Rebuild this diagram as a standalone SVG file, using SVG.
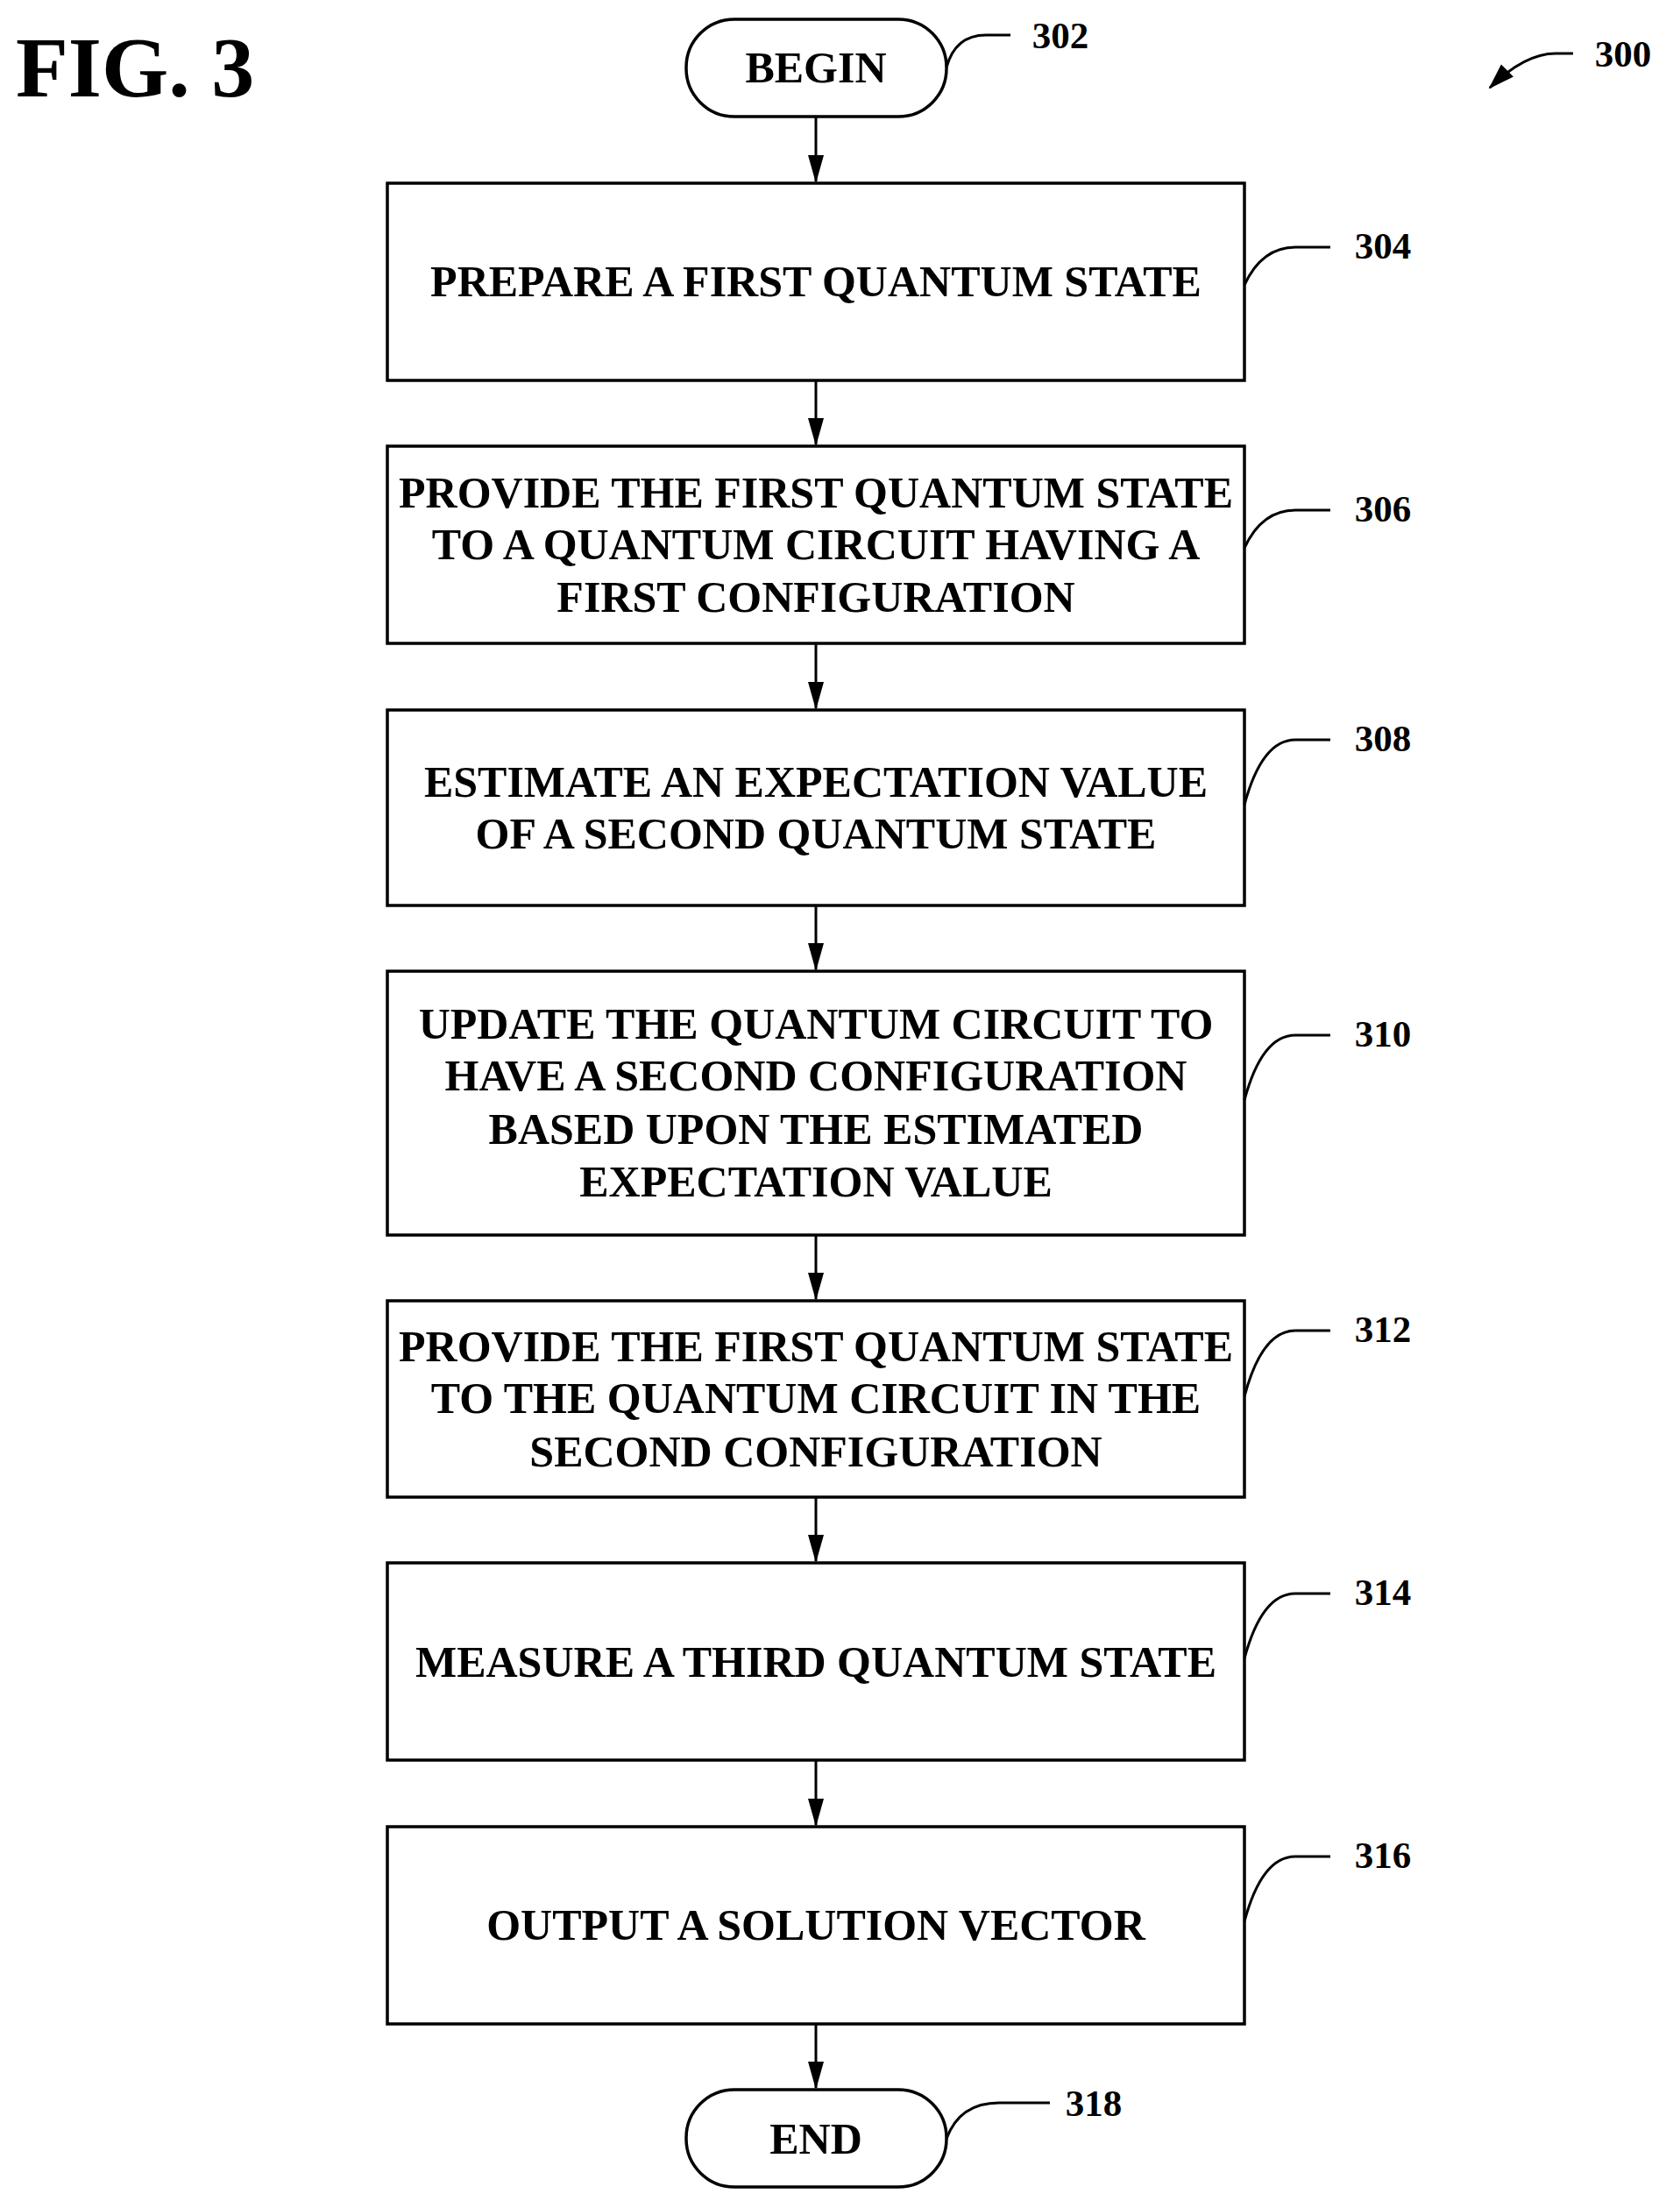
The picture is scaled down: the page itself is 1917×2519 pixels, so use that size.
<svg xmlns="http://www.w3.org/2000/svg" width="1917" height="2519" viewBox="0 0 1917 2519">
<style>
.b{fill:#fff;stroke:#000;stroke-width:3.5}
.t{font-family:"Liberation Serif",serif;font-weight:bold;font-size:50px;text-anchor:middle}
.l{font-family:"Liberation Serif",serif;font-weight:bold;font-size:43px;text-anchor:middle}
.c{fill:none;stroke:#000;stroke-width:3}
</style>
<defs><marker id="a" markerWidth="32" markerHeight="20" refX="30" refY="10" orient="auto" markerUnits="userSpaceOnUse" viewBox="0 0 32 20"><path d="M0,1 L32,10 L0,19 Z" fill="#000"/></marker>
<marker id="h" markerWidth="30" markerHeight="24" refX="28" refY="12" orient="auto" markerUnits="userSpaceOnUse"><path d="M0,2 L30,12 L0,22 Z" fill="#000"/></marker></defs>
<rect width="1917" height="2519" fill="#fff"/>
<text x="18" y="110" font-family="Liberation Serif,serif" font-weight="bold" font-size="98">FIG. 3</text>
<g id="n302"><rect class="b" x="783" y="22" width="297" height="111" rx="55"/><text class="t" x="931" y="94">BEGIN</text></g>
<g id="n304"><rect class="b" x="442" y="209" width="978" height="225"/><text class="t" x="931" y="338">PREPARE A FIRST QUANTUM STATE</text></g>
<g id="n306"><rect class="b" x="442" y="509" width="978" height="225"/><text class="t" x="931" y="579">PROVIDE THE FIRST QUANTUM STATE</text><text class="t" x="931" y="638">TO A QUANTUM CIRCUIT HAVING A</text><text class="t" x="931" y="698">FIRST CONFIGURATION</text></g>
<g id="n308"><rect class="b" x="442" y="810" width="978" height="223"/><text class="t" x="931" y="909">ESTIMATE AN EXPECTATION VALUE</text><text class="t" x="931" y="968">OF A SECOND QUANTUM STATE</text></g>
<g id="n310"><rect class="b" x="442" y="1108" width="978" height="301"/><text class="t" x="931" y="1185">UPDATE THE QUANTUM CIRCUIT TO</text><text class="t" x="931" y="1244">HAVE A SECOND CONFIGURATION</text><text class="t" x="931" y="1305">BASED UPON THE ESTIMATED</text><text class="t" x="931" y="1365">EXPECTATION VALUE</text></g>
<g id="n312"><rect class="b" x="442" y="1484" width="978" height="224"/><text class="t" x="931" y="1553">PROVIDE THE FIRST QUANTUM STATE</text><text class="t" x="931" y="1612">TO THE QUANTUM CIRCUIT IN THE</text><text class="t" x="931" y="1673">SECOND CONFIGURATION</text></g>
<g id="n314"><rect class="b" x="442" y="1783" width="978" height="225"/><text class="t" x="931" y="1913">MEASURE A THIRD QUANTUM STATE</text></g>
<g id="n316"><rect class="b" x="442" y="2084" width="978" height="225"/><text class="t" x="931" y="2213">OUTPUT A SOLUTION VECTOR</text></g>
<g id="n318"><rect class="b" x="783" y="2384" width="297" height="111" rx="55"/><text class="t" x="931" y="2457">END</text></g>
<g id="connectors" class="c">
<path class="c" d="M931,133 V207" marker-end="url(#a)"/>
<path class="c" d="M931,434 V507" marker-end="url(#a)"/>
<path class="c" d="M931,734 V808" marker-end="url(#a)"/>
<path class="c" d="M931,1033 V1106" marker-end="url(#a)"/>
<path class="c" d="M931,1409 V1482" marker-end="url(#a)"/>
<path class="c" d="M931,1708 V1781" marker-end="url(#a)"/>
<path class="c" d="M931,2008 V2082" marker-end="url(#a)"/>
<path class="c" d="M931,2309 V2382" marker-end="url(#a)"/>
</g>
<g id="labels">
<path class="c" d="M1080,77 Q1090,40 1125,40 H1153"/><text class="l" x="1210" y="55">302</text>
<path class="c" d="M1420,325 Q1440,282 1478,282 H1518"/><text class="l" x="1578" y="295">304</text>
<path class="c" d="M1420,625 Q1440,582 1478,582 H1518"/><text class="l" x="1578" y="595">306</text>
<path class="c" d="M1420,918 Q1440,844 1478,844 H1518"/><text class="l" x="1578" y="857">308</text>
<path class="c" d="M1420,1255 Q1440,1181 1478,1181 H1518"/><text class="l" x="1578" y="1194">310</text>
<path class="c" d="M1420,1593 Q1440,1518 1478,1518 H1518"/><text class="l" x="1578" y="1531">312</text>
<path class="c" d="M1420,1892 Q1440,1818 1478,1818 H1518"/><text class="l" x="1578" y="1831">314</text>
<path class="c" d="M1420,2192 Q1440,2118 1478,2118 H1518"/><text class="l" x="1578" y="2131">316</text>
<path class="c" d="M1080,2440 Q1095,2399 1140,2399 H1198"/><text class="l" x="1248" y="2414">318</text>
<path class="c" d="M1795,61 H1775 Q1740,61 1700,100" marker-end="url(#h)"/><text class="l" x="1852" y="76">300</text>
</g>
</svg>
